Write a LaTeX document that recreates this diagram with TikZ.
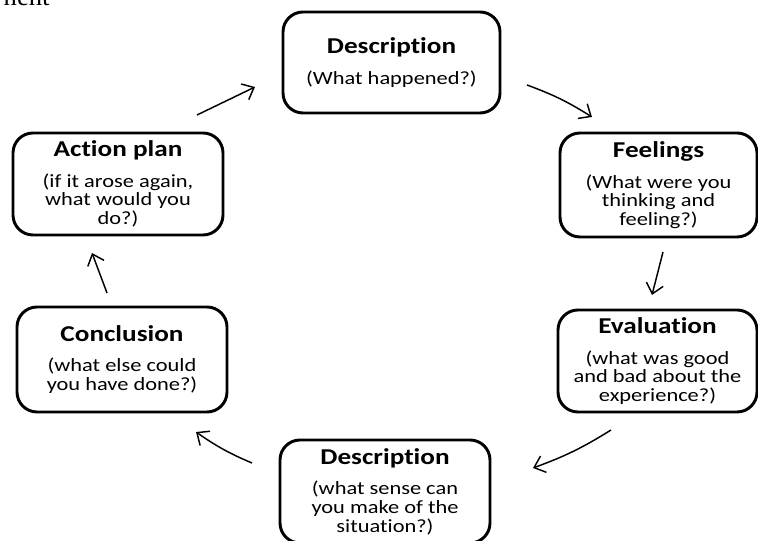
\documentclass[tikz,border=0pt]{standalone}
\usepackage{fontspec}
\setmainfont{Liberation Serif}
\newfontfamily\boxfont[FakeStretch=1.2,Ligatures=NoCommon]{Carlito}
\usetikzlibrary{arrows.meta,bending}
\def\stage#1#2{{\fontsize{17}{20}\selectfont\bfseries #1}\\[9pt]#2}

\begin{document}
\begin{tikzpicture}[x=0.75pt,y=-0.75pt,
    stagebox/.style={draw,rounded corners=15pt,line width=2.2pt,align=center,inner sep=0pt,
      font=\boxfont\fontsize{14}{14}\selectfont},
    flow/.style={-{Straight Barb[length=7.5pt,width=13pt]},line width=1.1pt}]
  \useasboundingbox (0,0) rectangle (758,541);
  \node[anchor=base west,font=\fontsize{20}{22}\selectfont] (cut) at (-1,6) {nent};
  % the six stages of the cycle
  \node[stagebox,minimum width=162.75pt,minimum height=75.75pt] (desc) at (391.5,62.5)
    {\stage{Description}{(What happened?)}};
  \node[stagebox,minimum width=147.75pt,minimum height=78pt] (feel) at (658.5,185)
    {\stage{Feelings}{(What were you\\thinking and\\feeling?)}};
  \node[stagebox,minimum width=149.25pt,minimum height=76.5pt] (eval) at (657.5,361)
    {\stage{Evaluation}{(what was good\\and bad about the\\experience?)}};
  \node[stagebox,minimum width=157.5pt,minimum height=77.25pt] (anal) at (385,491.5)
    {\stage{Description}{(what sense can\\you make of the\\situation?)}};
  \node[stagebox,minimum width=157.5pt,minimum height=78.75pt] (concl) at (122,359.5)
    {\stage{Conclusion}{(what else could\\you have done?)}};
  \node[stagebox,minimum width=157.5pt,minimum height=76.5pt] (act) at (118,184)
    {\stage{Action plan}{(if it arose again,\\what would you\\do?)}};
  % arrows between the stages
  \coordinate (actout) at (197,115);   \coordinate (descin) at (255,87);
  \coordinate (descout) at (527,85);   \coordinate (feelin) at (592,117);
  \coordinate (feelout) at (663,252);  \coordinate (evalin) at (652,295);
  \coordinate (evalout) at (611,430);  \coordinate (analin) at (533,468);
  \coordinate (analout) at (252,463);  \coordinate (conclin) at (196,432);
  \coordinate (conclout) at (107,293); \coordinate (actin) at (92,253);
  \draw[flow] (actout) -- (descin);
  \draw[flow] (descout) to[bend left=6] (feelin);
  \draw[flow] (feelout) -- (evalin);
  \draw[flow] (evalout) to[bend left=6] (analin);
  \draw[flow] (analout) to[bend left=6] (conclin);
  \draw[flow] (conclout) -- (actin);
\end{tikzpicture}
\end{document}
